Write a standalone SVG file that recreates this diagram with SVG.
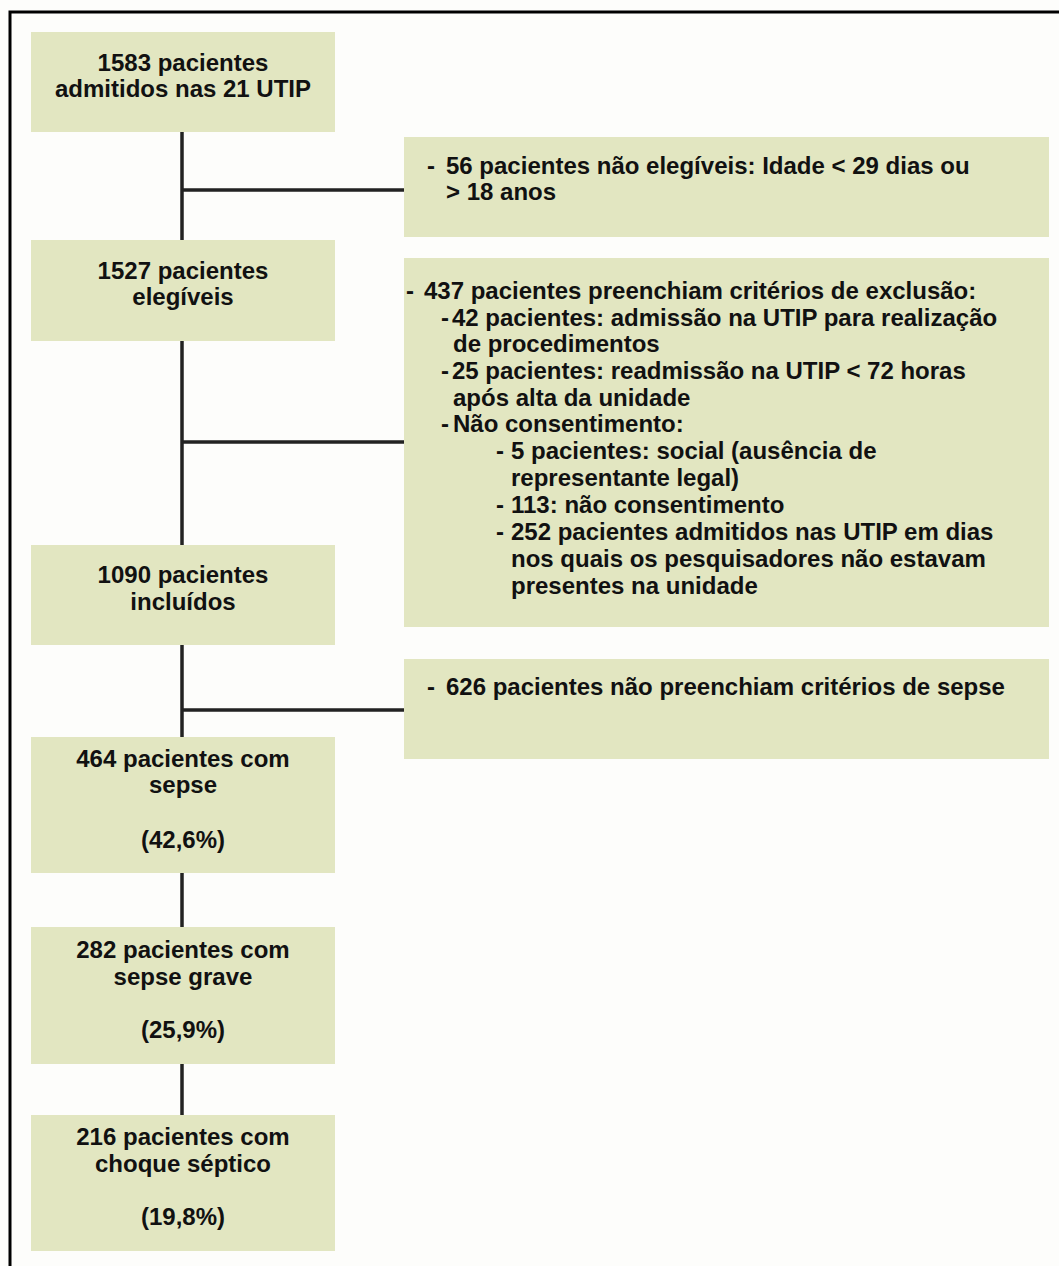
<svg xmlns="http://www.w3.org/2000/svg" width="1059" height="1266" viewBox="0 0 1059 1266">
<style>
.box{fill:#E2E6C1}
.t{font-family:"Liberation Sans",Arial,sans-serif;font-weight:bold;font-size:24px;fill:#111}
.c{text-anchor:middle}
.ln{stroke:#222;stroke-width:3.5;fill:none}
.frame{stroke:#000;stroke-width:3;fill:none}
</style>
<rect width="1059" height="1266" fill="#FDFDFB"/>
<path class="frame" d="M1059 12 H10 V1266"/>
<g id="connectors">
<path class="ln" d="M182 132 V240 M182 341 V545 M182 645 V737 M182 873 V927 M182 1064 V1115"/>
<path class="ln" d="M182 190 H404 M182 442 H404 M182 710 H404"/>
</g>
<g id="n1">
<rect class="box" x="31" y="32" width="304" height="100"/>
<text class="t c" x="183" y="71">1583 pacientes</text>
<text class="t c" x="183" y="97">admitidos nas 21 UTIP</text>
</g>
<g id="n2">
<rect class="box" x="31" y="240" width="304" height="101"/>
<text class="t c" x="183" y="279">1527 pacientes</text>
<text class="t c" x="183" y="305">elegíveis</text>
</g>
<g id="n3">
<rect class="box" x="31" y="545" width="304" height="100"/>
<text class="t c" x="183" y="583">1090 pacientes</text>
<text class="t c" x="183" y="610">incluídos</text>
</g>
<g id="n4">
<rect class="box" x="31" y="737" width="304" height="136"/>
<text class="t c" x="183" y="767">464 pacientes com</text>
<text class="t c" x="183" y="793">sepse</text>
<text class="t c" x="183" y="848">(42,6%)</text>
</g>
<g id="n5">
<rect class="box" x="31" y="927" width="304" height="137"/>
<text class="t c" x="183" y="958">282 pacientes com</text>
<text class="t c" x="183" y="985">sepse grave</text>
<text class="t c" x="183" y="1038">(25,9%)</text>
</g>
<g id="n6">
<rect class="box" x="31" y="1115" width="304" height="136"/>
<text class="t c" x="183" y="1145">216 pacientes com</text>
<text class="t c" x="183" y="1172">choque séptico</text>
<text class="t c" x="183" y="1225">(19,8%)</text>
</g>
<g id="exA">
<rect class="box" x="404" y="137" width="645" height="100"/>
<text class="t" x="427" y="174">-</text>
<text class="t" x="446" y="174">56 pacientes não elegíveis: Idade &lt; 29 dias ou</text>
<text class="t" x="446" y="200">&gt; 18 anos</text>
</g>
<g id="exB">
<rect class="box" x="404" y="258" width="645" height="369"/>
<text class="t" x="406" y="299">-</text>
<text class="t" x="424" y="299">437 pacientes preenchiam critérios de exclusão:</text>
<text class="t" x="441" y="326">-</text>
<text class="t" x="452" y="326">42 pacientes: admissão na UTIP para realização</text>
<text class="t" x="453" y="352">de procedimentos</text>
<text class="t" x="441" y="379">-</text>
<text class="t" x="452" y="379">25 pacientes: readmissão na UTIP &lt; 72 horas</text>
<text class="t" x="453" y="406">após alta da unidade</text>
<text class="t" x="441" y="432">-</text>
<text class="t" x="453" y="432">Não consentimento:</text>
<text class="t" x="496" y="459">-</text>
<text class="t" x="511" y="459">5 pacientes: social (ausência de</text>
<text class="t" x="511" y="486">representante legal)</text>
<text class="t" x="496" y="513">-</text>
<text class="t" x="511" y="513">113: não consentimento</text>
<text class="t" x="496" y="540">-</text>
<text class="t" x="511" y="540">252 pacientes admitidos nas UTIP em dias</text>
<text class="t" x="511" y="567">nos quais os pesquisadores não estavam</text>
<text class="t" x="511" y="594">presentes na unidade</text>
</g>
<g id="exC">
<rect class="box" x="404" y="659" width="645" height="100"/>
<text class="t" x="427" y="695">-</text>
<text class="t" x="446" y="695">626 pacientes não preenchiam critérios de sepse</text>
</g>
</svg>
